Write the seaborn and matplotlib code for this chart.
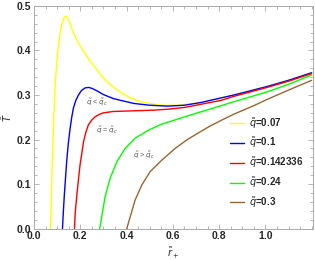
import numpy as np
import pandas as pd
import matplotlib
matplotlib.use('Agg')
import matplotlib.pyplot as plt
import seaborn as sns
from matplotlib.ticker import MultipleLocator, FixedLocator

# values (r_+ , T)
q_labels = ['0.07', '0.1', '0.142336', '0.24', '0.3']
colors = ['#ffff00', '#0000ff', '#ff0000', '#00ff00', '#996633']

r_q007 = [0.071, 0.075, 0.079, 0.084, 0.090, 0.097, 0.105, 0.113, 0.119, 0.125, 0.130,
          0.135, 0.141, 0.147, 0.153, 0.160, 0.171, 0.190, 0.214, 0.240, 0.273, 0.300,
          0.330, 0.374, 0.420, 0.461, 0.510, 0.550, 0.620, 0.720, 0.864, 1.007, 1.100, 1.200]
T_q007 = [0.0, 0.07, 0.15, 0.23, 0.31, 0.365, 0.41, 0.44, 0.456, 0.468, 0.474,
          0.477, 0.476, 0.471, 0.464, 0.455, 0.439, 0.418, 0.399, 0.378, 0.356, 0.338,
          0.323, 0.306, 0.293, 0.285, 0.280, 0.277, 0.277, 0.283, 0.300, 0.319, 0.333, 0.350]

r_q01 = [0.123, 0.127, 0.131, 0.141, 0.148, 0.156, 0.163, 0.170, 0.180, 0.192, 0.205,
         0.221, 0.236, 0.250, 0.270, 0.300, 0.343, 0.374, 0.432, 0.500, 0.577, 0.650,
         0.720, 0.864, 1.007, 1.100, 1.200]
T_q01 = [0.0, 0.04, 0.075, 0.150, 0.19, 0.225, 0.25, 0.270, 0.287, 0.300, 0.310,
         0.316, 0.317, 0.315, 0.310, 0.301, 0.292, 0.288, 0.281, 0.277, 0.275, 0.277,
         0.283, 0.300, 0.319, 0.333, 0.350]

r_qc = [0.175, 0.178, 0.185, 0.192, 0.199, 0.214, 0.224, 0.235, 0.250, 0.264, 0.280,
        0.300, 0.343, 0.400, 0.460, 0.520, 0.577, 0.650, 0.720, 0.809, 0.864, 1.007,
        1.100, 1.200]
T_qc = [0.0, 0.035, 0.075, 0.11, 0.143, 0.195, 0.216, 0.233, 0.244, 0.251, 0.256,
        0.260, 0.263, 0.264, 0.265, 0.266, 0.268, 0.272, 0.279, 0.288, 0.297, 0.317,
        0.331, 0.348]

r_q024 = [0.284, 0.293, 0.307, 0.329, 0.358, 0.394, 0.437, 0.495, 0.553, 0.610, 0.670,
          0.720, 0.809, 0.864, 0.930, 1.007, 1.100, 1.200]
T_q024 = [0.0, 0.027, 0.071, 0.113, 0.150, 0.180, 0.203, 0.221, 0.235, 0.244, 0.254,
          0.262, 0.276, 0.285, 0.295, 0.307, 0.324, 0.345]

r_q03 = [0.401, 0.416, 0.437, 0.466, 0.502, 0.553, 0.610, 0.660, 0.714, 0.760, 0.809,
         0.864, 0.950, 1.007, 1.100, 1.200]
T_q03 = [0.0, 0.027, 0.064, 0.098, 0.128, 0.154, 0.180, 0.199, 0.216, 0.230, 0.243,
         0.257, 0.276, 0.290, 0.311, 0.333]

r_all = [r_q007, r_q01, r_qc, r_q024, r_q03]
T_all = [T_q007, T_q01, T_qc, T_q024, T_q03]

frames = []
for lab, r, T in zip(q_labels, r_all, T_all):
    frames.append(pd.DataFrame({'r': r, 'T': T, 'q': r'$\tilde{q}$=' + lab}))
df = pd.concat(frames, ignore_index=True)

sns.set_style('ticks')
plt.rcParams['font.family'] = ['Liberation Sans', 'DejaVu Sans']
plt.rcParams['mathtext.fontset'] = 'dejavusans'

fig = plt.figure(figsize=(3.15, 2.6), dpi=100)
ax = fig.add_axes([0.108, 0.121, 0.885, 0.856])

sns.lineplot(data=df, x='r', y='T', hue='q', palette=colors, sort=False,
             estimator=None, linewidth=1.0, ax=ax)

ax.set_xlim(0, 1.205)
ax.set_ylim(0, 0.5)
ax.xaxis.set_major_locator(FixedLocator([0.0, 0.2, 0.4, 0.6, 0.8, 1.0]))
ax.xaxis.set_minor_locator(MultipleLocator(0.05))
ax.yaxis.set_major_locator(MultipleLocator(0.1))
ax.yaxis.set_minor_locator(MultipleLocator(0.02))
ax.tick_params(which='both', direction='in', top=True, right=True, color='#aaaaaa', width=0.6)
ax.tick_params(which='major', length=3.5, labelsize=7.5, pad=2)
ax.tick_params(which='minor', length=2)
for lbl in ax.get_xticklabels() + ax.get_yticklabels():
    lbl.set_fontweight('bold')
for sp in ax.spines.values():
    sp.set_color('#aaaaaa')
    sp.set_linewidth(0.7)

ax.set_xlabel(r'$\tilde{r}_+$', fontsize=7, labelpad=3)
ax.set_ylabel(r'$\tilde{T}$', fontsize=7, labelpad=2)

ax.text(0.273, 0.284, r'$\tilde{q}$ < $\tilde{q}_c$', fontsize=5.2, color='#555555',
        ha='center', va='center')
ax.text(0.316, 0.221, r'$\tilde{q}$ = $\tilde{q}_c$', fontsize=5.2, color='#555555',
        ha='center', va='center')
ax.text(0.476, 0.165, r'$\tilde{q}$ > $\tilde{q}_c$', fontsize=5.2, color='#555555',
        ha='center', va='center')

leg = ax.legend(loc='upper left', bbox_to_anchor=(0.69, 0.525), frameon=False,
                fontsize=7, handlelength=1.4, handletextpad=0.5, labelspacing=0.5,
                borderaxespad=0)
for t in leg.get_texts():
    t.set_fontweight('bold')

fig.savefig('out.png', dpi=100)
